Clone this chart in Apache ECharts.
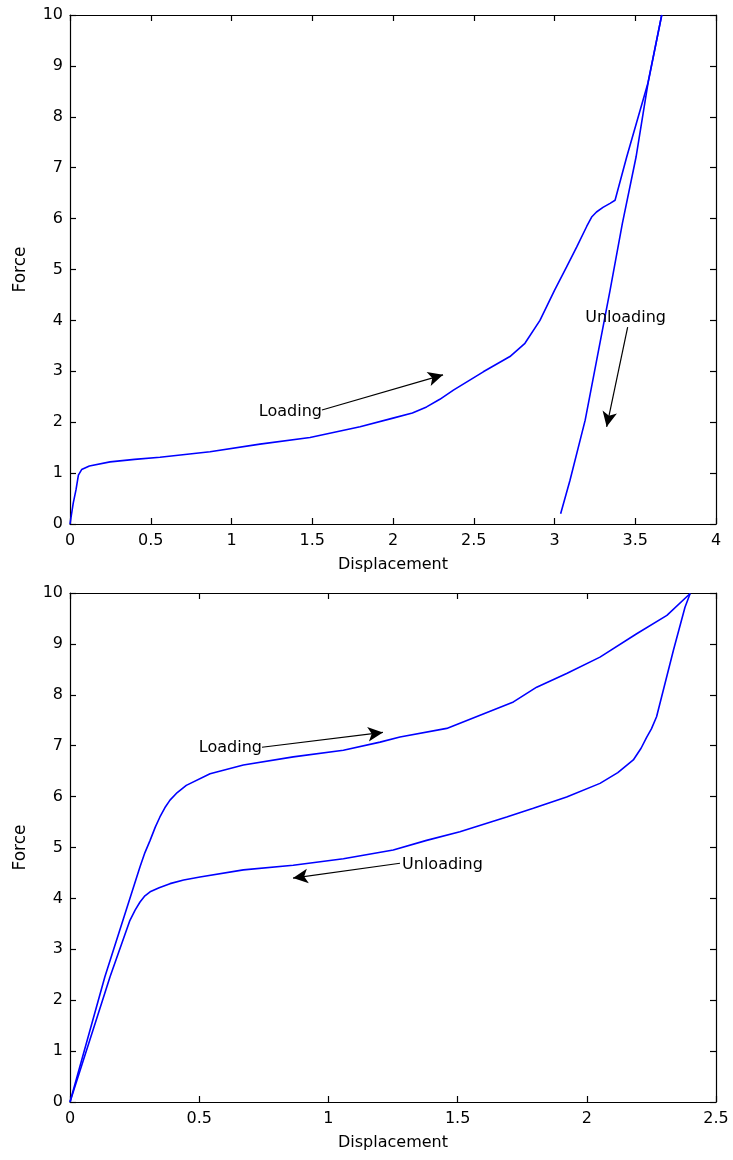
<!DOCTYPE html>
<html>
<head>
<meta charset="utf-8">
<script src="https://cdn.jsdelivr.net/npm/echarts@6/dist/echarts.min.js"></script>
<style>
html,body{margin:0;padding:0;background:#fff;}
#chart{width:733px;height:1160px;}
</style>
</head>
<body>
<div id="chart"></div>
<script>
// ---- Top panel data ----
const topLoadX = [0, 0.02, 0.037, 0.052, 0.072, 0.12, 0.248, 0.4, 0.557, 0.867, 1.176, 1.486, 1.796, 2.0, 2.12, 2.208, 2.29, 2.374, 2.559, 2.724, 2.817, 2.91, 3.0, 3.075, 3.137, 3.2, 3.23, 3.26, 3.30, 3.344, 3.375, 3.447, 3.58, 3.664];
const topLoadY = [0, 0.41, 0.67, 0.96, 1.07, 1.14, 1.22, 1.27, 1.31, 1.42, 1.57, 1.70, 1.91, 2.08, 2.18, 2.30, 2.45, 2.63, 2.99, 3.29, 3.55, 4.0, 4.59, 5.05, 5.44, 5.85, 6.03, 6.13, 6.22, 6.30, 6.36, 7.21, 8.68, 10];
const topUnloadX = [3.664, 3.58, 3.505, 3.42, 3.344, 3.26, 3.19, 3.096, 3.038];
const topUnloadY = [10, 8.68, 7.21, 5.9, 4.59, 3.2, 2.04, 0.86, 0.2];

// ---- Bottom panel data ----
const botLoadX = [0, 0.135, 0.271, 0.29, 0.31, 0.33, 0.348, 0.367, 0.387, 0.415, 0.45, 0.542, 0.671, 0.864, 1.058, 1.2, 1.277, 1.458, 1.587, 1.716, 1.806, 1.922, 2.051, 2.193, 2.31, 2.4];
const botLoadY = [0, 2.46, 4.62, 4.9, 5.14, 5.4, 5.6, 5.78, 5.93, 6.08, 6.22, 6.45, 6.62, 6.78, 6.91, 7.07, 7.17, 7.34, 7.6, 7.86, 8.15, 8.42, 8.74, 9.2, 9.56, 9.99];
const botUnloadX = [2.4, 2.38, 2.335, 2.296, 2.27, 2.25, 2.232, 2.21, 2.18, 2.12, 2.051, 1.922, 1.793, 1.69, 1.509, 1.38, 1.251, 1.058, 0.864, 0.671, 0.503, 0.44, 0.387, 0.345, 0.31, 0.29, 0.271, 0.252, 0.232, 0.155, 0];
const botUnloadY = [9.99, 9.72, 8.87, 8.09, 7.57, 7.33, 7.17, 6.95, 6.72, 6.47, 6.26, 5.99, 5.77, 5.6, 5.31, 5.14, 4.95, 4.78, 4.65, 4.56, 4.42, 4.36, 4.29, 4.21, 4.13, 4.05, 3.93, 3.77, 3.57, 2.46, 0];

// ---- Axis ranges / ticks ----
const topXRange = [0, 4, 0.5];
const botXRange = [0, 2.5, 0.5];
const yRange = [0, 10, 1];
const xName = 'Displacement';
const yName = 'Force';

// ---- Annotations (data coordinates): text anchor, text side, arrow start, arrow tip ----
const topLoadNote = { text: 'Loading', at: [1.56, 2.2], side: 'left', from: [1.56, 2.24], to: [2.31, 2.93] };
const topUnloadNote = { text: 'Unloading', at: [3.19, 4.06], side: 'right', from: [3.453, 3.87], to: [3.323, 1.91] };
const botLoadNote = { text: 'Loading', at: [0.743, 6.95], side: 'left', from: [0.743, 6.97], to: [1.211, 7.26] };
const botUnloadNote = { text: 'Unloading', at: [1.285, 4.65], side: 'right', from: [1.277, 4.69], to: [0.863, 4.40] };

const zip = (xs, ys) => xs.map((x, i) => [x, ys[i]]);
const FONT = 'DejaVu Sans';

function xAxes(range, gridIndex) {
  const base = {
    gridIndex, type: 'value', min: range[0], max: range[1], interval: range[2],
    splitLine: { show: false },
    axisLine: { show: true, onZero: false, lineStyle: { color: '#000', width: 1.2 } },
    axisTick: { show: true, inside: true, length: 6, lineStyle: { color: '#000', width: 1.2 } }
  };
  return [
    Object.assign({}, base, {
      position: 'bottom', name: xName, nameLocation: 'middle', nameGap: 33,
      nameTextStyle: { color: '#000', fontFamily: FONT, fontSize: 16 },
      axisLabel: { color: '#000', fontFamily: FONT, fontSize: 16, margin: 9 }
    }),
    Object.assign({}, base, { position: 'top', axisLabel: { show: false } })
  ];
}
function yAxes(range, gridIndex) {
  const base = {
    gridIndex, type: 'value', min: range[0], max: range[1], interval: range[2],
    splitLine: { show: false },
    axisLine: { show: true, onZero: false, lineStyle: { color: '#000', width: 1.2 } },
    axisTick: { show: true, inside: true, length: 6, lineStyle: { color: '#000', width: 1.2 } }
  };
  return [
    Object.assign({}, base, {
      position: 'left', name: yName, nameLocation: 'middle', nameGap: 41,
      nameTextStyle: { color: '#000', fontFamily: FONT, fontSize: 17 },
      axisLabel: { color: '#000', fontFamily: FONT, fontSize: 16, margin: 7 }
    }),
    Object.assign({}, base, { position: 'right', axisLabel: { show: false } })
  ];
}

function noteMarks(notes) {
  return {
    markLine: {
      silent: true, animation: false,
      symbol: ['none', 'arrow'], symbolSize: [11, 15],
      lineStyle: { color: '#000', width: 1.2, type: 'solid' },
      label: { show: false },
      data: notes.map(n => [{ coord: n.from }, { coord: n.to }])
    },
    markPoint: {
      silent: true, animation: false,
      symbol: 'circle', symbolSize: 0,
      itemStyle: { color: 'transparent' },
      label: { show: true, distance: 0, color: '#000', fontFamily: FONT, fontSize: 16 },
      data: notes.map(n => ({ coord: n.at, label: { formatter: n.text, position: n.side } }))
    }
  };
}

const lineStyle = { color: '#0000ff', width: 1.6 };
const chart = echarts.init(document.getElementById('chart'), null, { renderer: 'canvas' });
chart.setOption({
  backgroundColor: '#fff',
  animation: false,
  grid: [
    { left: 70, top: 15, width: 646, height: 509 },
    { left: 70, top: 593, width: 646, height: 509 }
  ],
  xAxis: [...xAxes(topXRange, 0), ...xAxes(botXRange, 1)],
  yAxis: [...yAxes(yRange, 0), ...yAxes(yRange, 1)],
  series: [
    Object.assign({ type: 'line', xAxisIndex: 0, yAxisIndex: 0, showSymbol: false, symbol: 'none',
      lineStyle, data: zip(topLoadX, topLoadY) }, noteMarks([topLoadNote, topUnloadNote])),
    { type: 'line', xAxisIndex: 0, yAxisIndex: 0, showSymbol: false, symbol: 'none',
      lineStyle, data: zip(topUnloadX, topUnloadY) },
    Object.assign({ type: 'line', xAxisIndex: 2, yAxisIndex: 2, showSymbol: false, symbol: 'none',
      lineStyle, data: zip(botLoadX, botLoadY) }, noteMarks([botLoadNote, botUnloadNote])),
    { type: 'line', xAxisIndex: 2, yAxisIndex: 2, showSymbol: false, symbol: 'none',
      lineStyle, data: zip(botUnloadX, botUnloadY) }
  ]
});
</script>
</body>
</html>
